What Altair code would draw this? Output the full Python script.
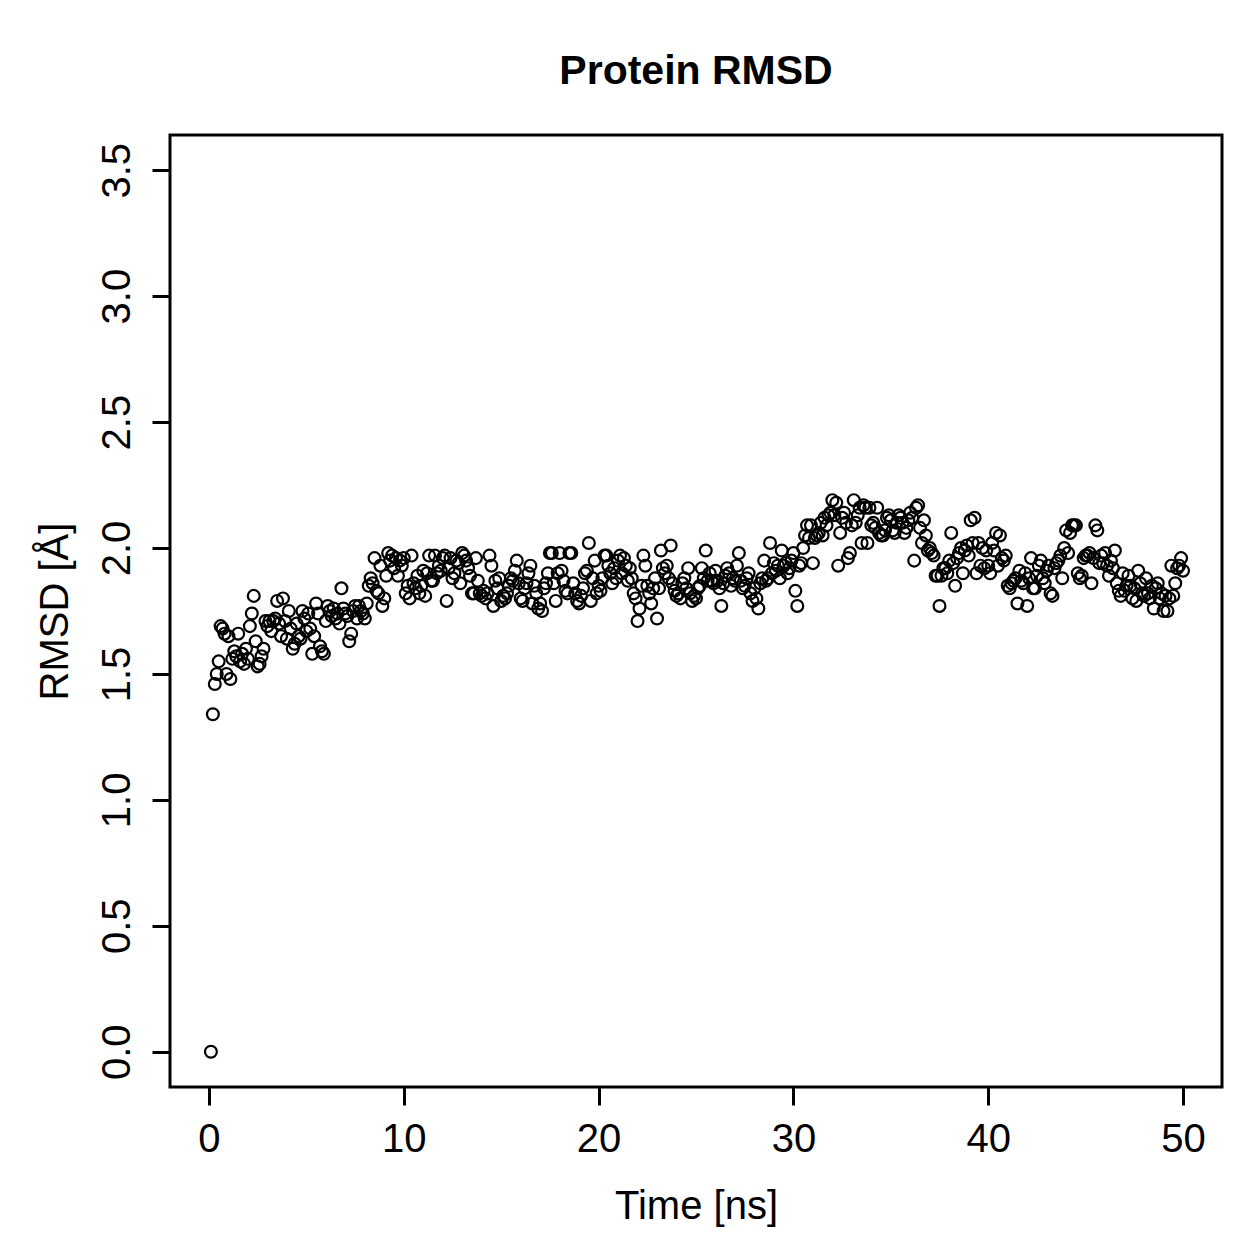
import altair as alt
import pandas as pd

# RMSD values (Å), one row per ns, sampled every 0.1 ns from 0.1 to 50.0 ns
r00 = [0.00, 1.34, 1.46, 1.50, 1.55, 1.69, 1.68, 1.66, 1.50, 1.65]
r01 = [1.48, 1.56, 1.59, 1.57, 1.66, 1.55, 1.58, 1.54, 1.60, 1.56]
r02 = [1.69, 1.74, 1.81, 1.63, 1.53, 1.54, 1.57, 1.60, 1.71, 1.69]
r03 = [1.71, 1.67, 1.71, 1.72, 1.79, 1.70, 1.65, 1.80, 1.71, 1.64]
r04 = [1.75, 1.68, 1.60, 1.62, 1.70, 1.65, 1.64, 1.75, 1.72, 1.67]
r05 = [1.74, 1.68, 1.58, 1.65, 1.78, 1.74, 1.61, 1.59, 1.58, 1.71]
r06 = [1.77, 1.75, 1.73, 1.76, 1.72, 1.74, 1.70, 1.84, 1.76, 1.74]
r07 = [1.73, 1.63, 1.66, 1.75, 1.77, 1.72, 1.77, 1.75, 1.74, 1.72]
r08 = [1.78, 1.85, 1.88, 1.86, 1.96, 1.83, 1.82, 1.93, 1.77, 1.80]
r09 = [1.89, 1.98, 1.95, 1.97, 1.92, 1.96, 1.89, 1.95, 1.93, 1.96]
r10 = [1.82, 1.85, 1.80, 1.97, 1.86, 1.84, 1.89, 1.82, 1.85, 1.91]
r11 = [1.81, 1.90, 1.97, 1.87, 1.87, 1.97, 1.90, 1.93, 1.91, 1.96]
r12 = [1.97, 1.79, 1.92, 1.96, 1.88, 1.90, 1.95, 1.94, 1.86, 1.98]
r13 = [1.97, 1.95, 1.92, 1.89, 1.82, 1.82, 1.96, 1.87, 1.82, 1.81]
r14 = [1.83, 1.80, 1.82, 1.97, 1.93, 1.77, 1.87, 1.84, 1.88, 1.79]
r15 = [1.81, 1.80, 1.82, 1.85, 1.88, 1.87, 1.91, 1.95, 1.86, 1.80]
r16 = [1.79, 1.84, 1.86, 1.90, 1.93, 1.78, 1.85, 1.82, 1.76, 1.78]
r17 = [1.75, 1.84, 1.86, 1.90, 1.98, 1.98, 1.86, 1.79, 1.90, 1.98]
r18 = [1.91, 1.87, 1.83, 1.82, 1.98, 1.98, 1.86, 1.82, 1.79, 1.78]
r19 = [1.81, 1.84, 1.90, 1.91, 2.02, 1.79, 1.88, 1.95, 1.82, 1.85]
r20 = [1.83, 1.88, 1.97, 1.97, 1.93, 1.90, 1.86, 1.92, 1.88, 1.95]
r21 = [1.97, 1.90, 1.96, 1.93, 1.87, 1.92, 1.88, 1.82, 1.80, 1.71]
r22 = [1.76, 1.85, 1.97, 1.93, 1.85, 1.82, 1.78, 1.84, 1.88, 1.72]
r23 = [1.84, 1.99, 1.92, 1.90, 1.93, 1.88, 2.01, 1.86, 1.83, 1.81]
r24 = [1.82, 1.80, 1.86, 1.88, 1.84, 1.92, 1.82, 1.79, 1.81, 1.80]
r25 = [1.84, 1.85, 1.92, 1.88, 1.99, 1.87, 1.90, 1.87, 1.86, 1.91]
r26 = [1.87, 1.84, 1.77, 1.86, 1.89, 1.92, 1.90, 1.85, 1.88, 1.87]
r27 = [1.93, 1.98, 1.87, 1.84, 1.85, 1.88, 1.90, 1.82, 1.79, 1.84]
r28 = [1.80, 1.76, 1.86, 1.88, 1.95, 1.87, 1.88, 2.02, 1.90, 1.94]
r29 = [1.91, 1.93, 1.88, 1.99, 1.93, 1.94, 1.90, 1.92, 1.95, 1.98]
r30 = [1.83, 1.77, 1.93, 1.94, 2.00, 2.05, 2.09, 2.04, 2.09, 1.94]
r31 = [2.04, 2.05, 2.06, 2.10, 2.05, 2.12, 2.09, 2.13, 2.14, 2.19]
r32 = [2.13, 2.18, 1.93, 2.06, 2.12, 2.14, 2.10, 1.96, 1.98, 2.09]
r33 = [2.19, 2.10, 2.13, 2.16, 2.02, 2.17, 2.16, 2.02, 2.16, 2.09]
r34 = [2.10, 2.08, 2.16, 2.06, 2.05, 2.05, 2.07, 2.12, 2.13, 2.11]
r35 = [2.07, 2.06, 2.10, 2.13, 2.12, 2.10, 2.06, 2.08, 2.11, 2.14]
r36 = [2.12, 1.95, 2.16, 2.17, 2.08, 2.02, 2.11, 2.05, 1.99, 2.00]
r37 = [1.98, 1.97, 1.89, 1.89, 1.77, 1.89, 1.92, 1.92, 1.90, 1.95]
r38 = [2.06, 1.94, 1.85, 1.96, 1.98, 2.00, 1.90, 1.99, 2.01, 1.97]
r39 = [2.11, 2.02, 2.12, 1.90, 2.02, 1.93, 2.00, 1.92, 1.99, 1.93]
r40 = [1.90, 2.02, 1.99, 2.06, 1.93, 2.05, 1.96, 1.95, 1.97, 1.85]
r41 = [1.84, 1.86, 1.87, 1.88, 1.78, 1.91, 1.87, 1.86, 1.90, 1.77]
r42 = [1.88, 1.96, 1.84, 1.84, 1.89, 1.93, 1.95, 1.88, 1.86, 1.91]
r43 = [1.93, 1.82, 1.81, 1.92, 1.94, 1.95, 1.97, 1.88, 2.00, 2.07]
r44 = [1.98, 2.06, 2.09, 2.09, 2.09, 1.90, 1.88, 1.89, 1.96, 1.97]
r45 = [1.97, 1.98, 1.86, 1.96, 2.09, 2.07, 1.94, 1.97, 1.94, 1.98]
r46 = [1.93, 1.89, 1.95, 1.92, 1.99, 1.86, 1.83, 1.81, 1.90, 1.83]
r47 = [1.85, 1.89, 1.85, 1.80, 1.84, 1.79, 1.91, 1.86, 1.82, 1.81]
r48 = [1.88, 1.82, 1.80, 1.85, 1.76, 1.84, 1.86, 1.80, 1.82, 1.75]
r49 = [1.81, 1.75, 1.80, 1.93, 1.81, 1.86, 1.92, 1.93, 1.96, 1.91]

rows = [r00, r01, r02, r03, r04, r05, r06, r07, r08, r09,
        r10, r11, r12, r13, r14, r15, r16, r17, r18, r19,
        r20, r21, r22, r23, r24, r25, r26, r27, r28, r29,
        r30, r31, r32, r33, r34, r35, r36, r37, r38, r39,
        r40, r41, r42, r43, r44, r45, r46, r47, r48, r49]
rmsd = [v for row in rows for v in row]
time_ns = [round(0.1 * (i + 1), 1) for i in range(len(rmsd))]

x_ticks = [0, 10, 20, 30, 40, 50]
y_ticks = [0.0, 0.5, 1.0, 1.5, 2.0, 2.5, 3.0, 3.5]

df = pd.DataFrame({"time": time_ns, "rmsd": rmsd})

FONT = "Liberation Sans"

chart = alt.Chart(df).mark_point(
    shape="circle", filled=False, color="black", strokeWidth=2.2, size=140, opacity=1
).encode(
    x=alt.X("time:Q",
            scale=alt.Scale(domain=[-2, 52], nice=False, zero=False),
            axis=alt.Axis(values=x_ticks, format="d", title="Time [ns]",
                          labelBaseline="alphabetic", labelPadding=46,
                          titleX=526, titleY=131, titleAlign="center",
                          titleBaseline="alphabetic")),
    y=alt.Y("rmsd:Q",
            scale=alt.Scale(domain=[-0.14, 3.64], nice=False, zero=False),
            axis=alt.Axis(values=y_ticks, format=".1f", title="RMSD [Å]",
                          labelAngle=270, labelAlign="center",
                          labelBaseline="alphabetic", labelPadding=23,
                          titleAngle=270, titleX=-103, titleY=476,
                          titleAlign="center", titleBaseline="alphabetic")),
).properties(
    width=1052,
    height=952,
    background="white",
    title=alt.TitleParams("Protein RMSD", fontSize=41, fontWeight="bold",
                          font=FONT, color="black", anchor="middle",
                          frame="group", baseline="alphabetic", offset=10),
    autosize=alt.AutoSizeParams(type="none"),
    padding={"left": 170, "top": 135, "right": 37, "bottom": 172},
).configure_view(
    stroke="black", strokeWidth=3
).configure_axis(
    domain=False, grid=False, ticks=True, tickColor="black", tickWidth=3,
    tickSize=18, labelColor="black", labelFont=FONT, labelFontSize=40,
    titleColor="black", titleFont=FONT, titleFontSize=40,
    titleFontWeight="normal", labelFlush=False, labelOverlap=False
)

chart.save("out.html", embed_options={"renderer": "svg", "actions": False})
